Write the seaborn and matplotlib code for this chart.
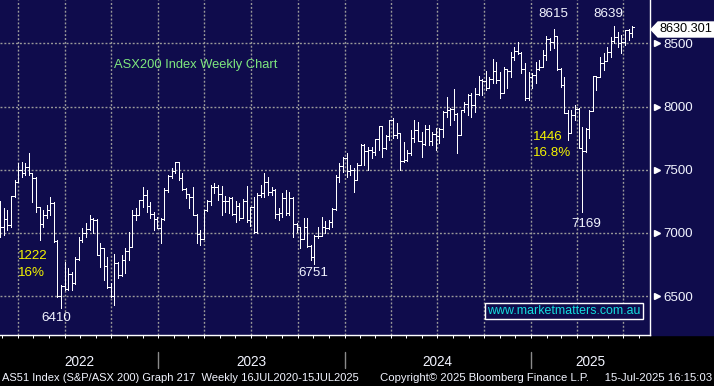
import numpy as np
import pandas as pd
import seaborn as sns
import matplotlib.pyplot as plt
import matplotlib.dates as mdates
from matplotlib.patches import Rectangle, Polygon
from matplotlib.transforms import blended_transform_factory

# weekly bars, week ending Friday
week_ending = pd.date_range("2022-02-25", periods=178, freq="W-FRI")

opens = [7120, 7049, 7111, 7064, 7290, 7406, 7499, 7478, 7523, 7473,
         7435, 7205, 7075, 7146, 7182, 7238, 6940, 6500, 6578, 6560,
         6678, 6605, 6792, 6945, 7000, 7032, 7114, 7104, 6828, 6879,
         6737, 6574, 6500, 6762, 6668, 6786, 6860, 6892, 7146, 7139,
         7259, 7301, 7213, 7153, 7107, 7038, 7109, 7340, 7452, 7493,
         7558, 7434, 7346, 7307, 7284, 7144, 6995, 6955, 7178, 7250,
         7362, 7364, 7309, 7251, 7256, 7279, 7154, 7216, 7122, 7250,
         7099, 7203, 7007, 7303, 7314, 7403, 7325, 7340, 7148, 7159,
         7278, 7156, 7279, 7069, 7048, 6955, 7051, 6900, 6812, 6978,
         6976, 7049, 7040, 7090, 7190, 7443, 7533, 7590, 7489, 7498,
         7421, 7540, 7699, 7645, 7658, 7643, 7740, 7845, 7670, 7770,
         7890, 7773, 7788, 7567, 7575, 7629, 7749, 7814, 7727, 7701,
         7822, 7724, 7780, 7768, 7822, 7959, 7972, 7980, 7945, 7778,
         7971, 8022, 8091, 8013, 8099, 8210, 8200, 8150, 8215, 8283,
         8211, 8110, 8296, 8285, 8393, 8436, 8420, 8296, 8067, 8235,
         8250, 8294, 8310, 8408, 8532, 8511, 8555, 8296, 8172, 7948,
         7789, 7931, 7982, 7670, 7646, 7819, 7968, 8238, 8231, 8343,
         8361, 8434, 8515, 8548, 8505, 8514, 8603, 8580]
highs = [7255, 7194, 7181, 7294, 7418, 7550, 7563, 7550, 7632, 7476,
         7440, 7207, 7181, 7221, 7287, 7247, 6944, 6588, 6772, 6720,
         6690, 6812, 6970, 7036, 7076, 7142, 7120, 7110, 6917, 6885,
         6812, 6601, 6833, 6772, 6825, 6878, 7010, 7181, 7194, 7260,
         7366, 7339, 7247, 7168, 7123, 7115, 7353, 7458, 7511, 7563,
         7563, 7471, 7353, 7310, 7366, 7150, 7023, 7181, 7260, 7379,
         7392, 7379, 7371, 7292, 7287, 7287, 7255, 7234, 7266, 7371,
         7208, 7281, 7313, 7379, 7471, 7440, 7366, 7345, 7194, 7313,
         7340, 7326, 7285, 7081, 7049, 7115, 7115, 6904, 6983, 7050,
         7129, 7097, 7100, 7194, 7458, 7550, 7603, 7630, 7537, 7511,
         7550, 7703, 7700, 7677, 7677, 7743, 7846, 7846, 7775, 7893,
         7906, 7867, 7790, 7722, 7656, 7814, 7893, 7880, 7801, 7853,
         7853, 7800, 7827, 7827, 7967, 8077, 7985, 8138, 7946, 7972,
         8038, 8099, 8109, 8143, 8241, 8215, 8283, 8236, 8373, 8354,
         8275, 8310, 8300, 8433, 8473, 8514, 8433, 8341, 8275, 8262,
         8354, 8368, 8447, 8557, 8539, 8615, 8560, 8302, 8236, 7972,
         7972, 8012, 7985, 7840, 7827, 7972, 8240, 8240, 8394, 8420,
         8473, 8552, 8639, 8592, 8565, 8605, 8610, 8636]
lows = [6970, 6983, 7023, 7049, 7287, 7400, 7445, 7458, 7458, 7247,
        7168, 6944, 7049, 7115, 7142, 6931, 6496, 6410, 6548, 6548,
        6548, 6600, 6790, 6931, 6970, 7023, 6997, 6825, 6733, 6627,
        6561, 6496, 6430, 6640, 6660, 6680, 6786, 6891, 7102, 7139,
        7207, 7168, 7115, 7023, 7036, 6917, 7102, 7326, 7432, 7471,
        7418, 7339, 7273, 7194, 7142, 6917, 6904, 6955, 7175, 7221,
        7313, 7260, 7142, 7168, 7155, 7142, 7089, 7102, 7115, 7089,
        7055, 7002, 7002, 7287, 7287, 7300, 7300, 7115, 7102, 7129,
        7142, 7142, 6970, 7010, 6878, 6955, 6891, 6786, 6751, 6957,
        6976, 6997, 7035, 7050, 7185, 7406, 7485, 7445, 7458, 7326,
        7419, 7537, 7537, 7498, 7590, 7616, 7656, 7603, 7661, 7735,
        7748, 7748, 7498, 7564, 7570, 7616, 7722, 7727, 7603, 7695,
        7695, 7695, 7656, 7708, 7761, 7919, 7853, 7893, 7629, 7774,
        7959, 7933, 7919, 7959, 8091, 8091, 8130, 8150, 8183, 8183,
        8064, 8104, 8143, 8236, 8368, 8415, 8262, 8051, 8051, 8143,
        8183, 8288, 8310, 8368, 8447, 8460, 8288, 8157, 7946, 7735,
        7788, 7893, 7669, 7169, 7642, 7748, 7968, 8130, 8231, 8288,
        8361, 8394, 8499, 8473, 8420, 8486, 8526, 8552]
closes = [7049, 7111, 7064, 7290, 7406, 7499, 7478, 7523, 7473, 7435,
          7205, 7075, 7146, 7182, 7238, 6940, 6500, 6578, 6560, 6678,
          6605, 6792, 6945, 7000, 7032, 7114, 7104, 6828, 6879, 6737,
          6574, 6500, 6762, 6668, 6786, 6860, 6892, 7146, 7139, 7259,
          7301, 7213, 7153, 7107, 7038, 7109, 7340, 7452, 7493, 7558,
          7434, 7346, 7307, 7284, 7144, 6995, 6955, 7178, 7250, 7362,
          7364, 7309, 7251, 7256, 7279, 7154, 7216, 7122, 7250, 7099,
          7203, 7007, 7303, 7314, 7403, 7325, 7340, 7148, 7159, 7278,
          7156, 7279, 7069, 7048, 6955, 7051, 6900, 6812, 6978, 6976,
          7049, 7040, 7090, 7190, 7443, 7533, 7590, 7489, 7498, 7421,
          7540, 7699, 7645, 7658, 7643, 7740, 7845, 7670, 7770, 7890,
          7773, 7788, 7567, 7575, 7629, 7749, 7814, 7727, 7701, 7822,
          7724, 7780, 7768, 7822, 7959, 7972, 7980, 7945, 7778, 7971,
          8022, 8091, 8013, 8099, 8210, 8200, 8150, 8215, 8283, 8211,
          8110, 8296, 8285, 8393, 8436, 8420, 8296, 8067, 8235, 8250,
          8294, 8310, 8408, 8532, 8511, 8555, 8296, 8172, 7948, 7789,
          7931, 7982, 7670, 7646, 7819, 7968, 8238, 8231, 8343, 8361,
          8434, 8515, 8548, 8505, 8514, 8603, 8580, 8630.301]

y_ticks = [6500, 7000, 7500, 8000, 8500]
y_minor = [6250, 6750, 7250, 7750, 8250, 8750]
years = [2022, 2023, 2024, 2025]
last_price = 8630.301

NAVY = "#0f0c4c"
GRID = "#9a9a9a"
WHITE = "#f2f4ff"
YELLOW = "#f4f400"

sns.set_theme(style="dark", rc={
    "axes.facecolor": NAVY,
    "figure.facecolor": "black",
    "axes.edgecolor": "white",
    "grid.color": GRID,
})
plt.rcParams["font.family"] = ["Liberation Sans", "DejaVu Sans"]

df = pd.DataFrame({"date": week_ending, "open": opens, "high": highs,
                   "low": lows, "close": closes})
df["x"] = mdates.date2num(df["date"])

W, H = 714, 386
AX_W, AX_H = 650, 335
fig = plt.figure(figsize=(W / 100, H / 100), dpi=100)
fig.patches.append(Rectangle((0, 1 - AX_H / H), 1, AX_H / H,
                             transform=fig.transFigure, color=NAVY, zorder=-5))
ax = fig.add_axes([0, 1 - AX_H / H, AX_W / W, AX_H / H])
ax.set_zorder(2)

x0 = mdates.date2num(pd.Timestamp("2022-02-24 12:00"))
x1 = mdates.date2num(pd.Timestamp("2025-08-22 00:00"))
ax.set_xlim(x0, x1)
ax.set_ylim(6193, 8843)

# OHLC bars
px = 1.0 * 72 / 100
ax.vlines(df["x"], df["low"], df["high"], color="white", lw=px,
          antialiased=False, zorder=3)
ax.hlines(df["open"], df["x"] - 3, df["x"], color="white", lw=px,
          antialiased=False, zorder=3)
ax.hlines(df["close"], df["x"], df["x"] + 3, color="white", lw=px,
          antialiased=False, zorder=3)

# grid
ax.xaxis.set_major_locator(mdates.MonthLocator(bymonth=[1, 4, 7, 10]))
ax.xaxis.set_minor_locator(mdates.MonthLocator())
ax.xaxis.set_major_formatter(plt.NullFormatter())
ax.set_yticks(y_ticks)
ax.set_yticks(y_minor, minor=True)
ax.grid(True, which="major", color=GRID, lw=1.0, linestyle=(0, (1.4, 1.4)))
ax.grid(False, which="minor")

ax.tick_params(axis="x", which="both", direction="out", length=3 * px,
               width=px, color="white", bottom=True, labelbottom=False)
ax.yaxis.tick_right()
ax.tick_params(axis="y", which="major", length=6 * px, width=px, color="white",
               labelcolor=WHITE, labelsize=9.6, pad=5)
ax.tick_params(axis="y", which="minor", length=5 * px, width=px, color="white")
ax.set_yticklabels([str(v) for v in y_ticks])

sns.despine(ax=ax, left=True, top=True, right=False, bottom=False)
for s in ("right", "bottom"):
    ax.spines[s].set_color("white")
    ax.spines[s].set_linewidth(1.4 * px)

# little pointer heads on right axis ticks
bt = blended_transform_factory(ax.transAxes, ax.transData)
ax.plot([1 + 7 / AX_W] * len(y_ticks), y_ticks, ls="none", marker=">",
        ms=4, color="white", transform=bt, clip_on=False)

# year labels + separators in black band
bx = blended_transform_factory(ax.transData, ax.transAxes)
for yr in years:
    a = max(x0, mdates.date2num(pd.Timestamp(f"{yr}-01-01")))
    b = min(x1, mdates.date2num(pd.Timestamp(f"{yr + 1}-01-01")))
    ax.text((a + b) / 2, -27 / AX_H, str(yr), transform=bx, ha="center",
            va="center", color=WHITE, fontsize=9.8)
    if yr > years[0]:
        ax.plot([a, a], [-17 / AX_H, -33 / AX_H], color="#8a8a8a", lw=1.4 * px,
                transform=bx, clip_on=False)


def axpos(x, y):
    return x / AX_W, 1 - y / AX_H


notes = [
    ("1222", 18, 256, "left", YELLOW),
    ("16%", 18, 273, "left", YELLOW),
    ("6410", 56, 318, "center", WHITE),
    ("6751", 313, 273, "center", WHITE),
    ("8615", 553, 14, "center", WHITE),
    ("8639", 608, 14, "center", WHITE),
    ("1446", 533, 137, "left", YELLOW),
    ("16.8%", 533, 153, "left", YELLOW),
    ("7169", 586, 224, "center", WHITE),
]
for txt, nx, ny, ha, col in notes:
    ax.text(*axpos(nx, ny), txt, transform=ax.transAxes, ha=ha, va="center",
            color=col, fontsize=9.6, zorder=5)

ax.text(*axpos(114, 65), "ASX200 Index Weekly Chart", transform=ax.transAxes,
        ha="left", va="center", color="#7ee87e", fontsize=9.25, zorder=5)
ax.text(*axpos(487, 311), "www.marketmatters.com.au", transform=ax.transAxes,
        ha="left", va="center", color="#14dede", fontsize=8.9, zorder=5,
        bbox=dict(boxstyle="square,pad=0.2", fc=NAVY, ec="white", lw=1.0))

# last price tag
tag = [(651, 29.5), (658, 22), (714, 22), (714, 37), (658, 37)]
fig.patches.append(Polygon([(x / W, 1 - y / H) for x, y in tag], closed=True,
                           transform=fig.transFigure, fc="white", ec="white",
                           zorder=5))
fig.text(686 / W, 1 - 29.5 / H, f"{last_price:.3f}", ha="center", va="center",
         color="black", fontsize=9.2, zorder=6)

# footer
fig.text(2 / W, 1 - 378 / H, "AS51 Index (S&P/ASX 200) Graph 217  Weekly 16JUL2020-15JUL2025",
         ha="left", va="center", color=WHITE, fontsize=8.0)
fig.text(712 / W, 1 - 378 / H, "Copyright\u00a9 2025 Bloomberg Finance L.P.     15-Jul-2025 16:15:03",
         ha="right", va="center", color=WHITE, fontsize=8.2)

fig.savefig("out.png", dpi=100, facecolor="black")
